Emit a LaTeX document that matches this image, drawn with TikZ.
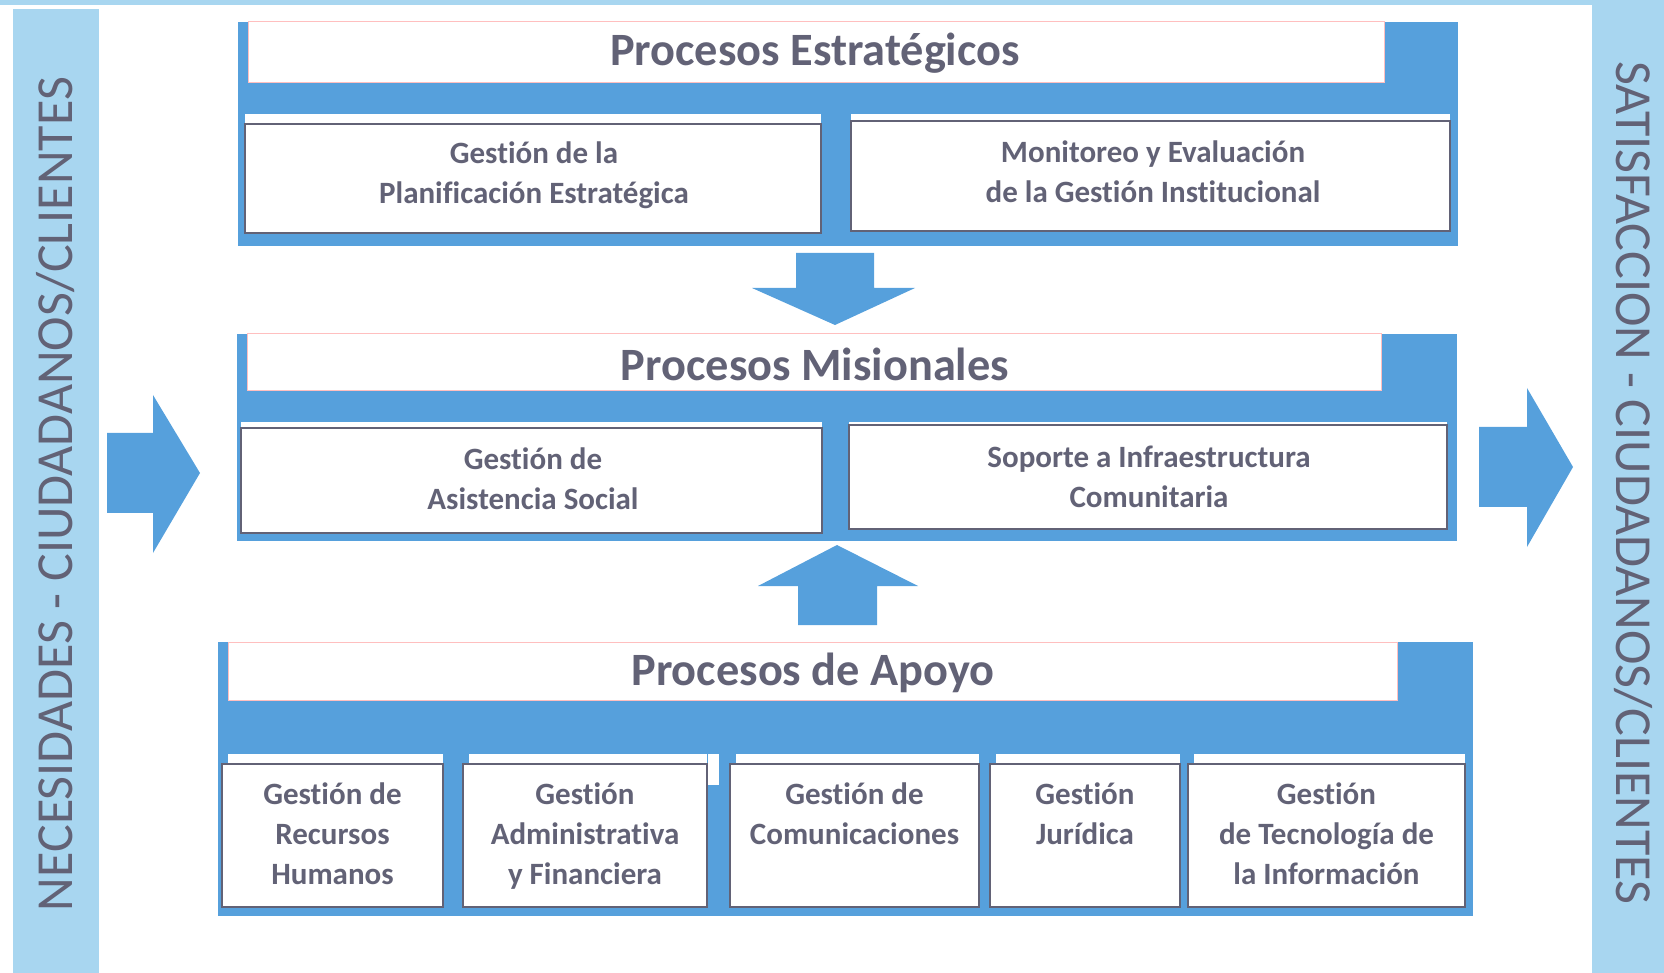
\documentclass[tikz,border=0pt]{standalone}
\usepackage{fontspec}
\setmainfont{Carlito}[Ligatures=NoCommon]
\definecolor{bandblue}{RGB}{86,160,220}
\definecolor{sideblue}{RGB}{168,214,240}
\definecolor{txtgray}{RGB}{98,98,118}
\begin{document}
\begin{tikzpicture}[x=0.3pt,y=-0.3pt,
    frame/.style={fill=bandblue},
    header/.style={fill=white, draw=red!25, line width=0.3pt},
    subbox/.style={fill=white, draw=txtgray, line width=0.45pt},
    title/.style={text=txtgray, font=\bfseries\fontsize{13.9}{16}\selectfont},
    lbl/.style={text=txtgray, align=center, inner sep=0pt, font=\bfseries\fontsize{9.3}{12}\selectfont},
    side/.style={text=txtgray, inner sep=0pt, font=\fontsize{15.6}{18}\selectfont}]
    \useasboundingbox (0,0) rectangle (1664,973);

    \fill[sideblue] (0,0) rectangle (1664,5);
    \fill[sideblue] (13,9) rectangle (99,973);
    \fill[sideblue] (1592,0) rectangle (1664,973);
    \node[side, rotate=90]  (necesidades)  at (56,494)   {NECESIDADES - CIUDADANOS/CLIENTES};
    \node[side, rotate=-90] (satisfaccion) at (1633,483) {SATISFACCION - CIUDADANOS/CLIENTES};

    \fill[bandblue] (107,433) -- (153,433) -- (153,395) -- (200,473) -- (153,553) -- (153,513) -- (107,513) -- cycle;
    \fill[bandblue] (1479,427) -- (1527,427) -- (1527,388) -- (1573,467) -- (1527,547) -- (1527,507) -- (1479,507) -- cycle;

    \fill[frame] (238,22) rectangle (1458,246);
    \draw[header] (248,22) rectangle (1384,83);
    \node[title] (estrategicos) at (815,53) {Procesos Estratégicos};
    \fill[white] (245,114) rectangle (821,124);
    \draw[subbox] (245,124) rectangle (821,233);
    \node[lbl] (planificacion) at (534,175) {Gestión de la\\Planificación Estratégica};
    \fill[white] (851,114) rectangle (1450,121);
    \draw[subbox] (851,121) rectangle (1450,231);
    \node[lbl] (monitoreo) at (1153,172) {Monitoreo y Evaluación\\de la Gestión Institucional};

    \fill[bandblue] (796,253) -- (874,253) -- (874,288) -- (915,288) -- (835,325) -- (752,288) -- (796,288) -- cycle;

    \fill[frame] (237,334) rectangle (1457,541);
    \draw[header] (247,334) rectangle (1381,391);
    \node[title] (misionales) at (815,364) {Procesos Misionales};
    \fill[white] (241,422) rectangle (822,428);
    \draw[subbox] (241,428) rectangle (822,533);
    \node[lbl] (asistencia) at (533,479) {Gestión de\\Asistencia Social};
    \fill[white] (849,422) rectangle (1447,425);
    \draw[subbox] (849,425) rectangle (1447,529);
    \node[lbl] (infraestructura) at (1149,477) {Soporte a Infraestructura\\Comunitaria};

    \fill[bandblue] (798,625) -- (798,586) -- (758,586) -- (837,545) -- (918,586) -- (877,586) -- (877,625) -- cycle;

    \fill[frame] (218,642) rectangle (1473,916);
    \draw[header] (228,642) rectangle (1397,700);
    \node[title] (apoyo) at (813,673) {Procesos de Apoyo};
    \foreach \xa/\xb/\nm/\txt in {222/443/recursos/{Gestión de\\Recursos\\Humanos},
                                  463/707/administrativa/{Gestión\\Administrativa\\y Financiera},
                                  730/979/comunicaciones/{Gestión de\\Comunicaciones},
                                  990/1180/juridica/{Gestión\\Jurídica},
                                  1188/1465/tecnologia/{Gestión\\de Tecnología de\\la Información}}
    {
      \fill[white] (\xa+6,754) rectangle (\xb,764);
      \draw[subbox] (\xa,764) rectangle (\xb,907);
      \node[lbl, anchor=north] (\nm) at ({(\xa+\xb)/2},782) {\txt};
    }
    \fill[white] (708,754) rectangle (719,785);
  \end{tikzpicture}
\end{document}
